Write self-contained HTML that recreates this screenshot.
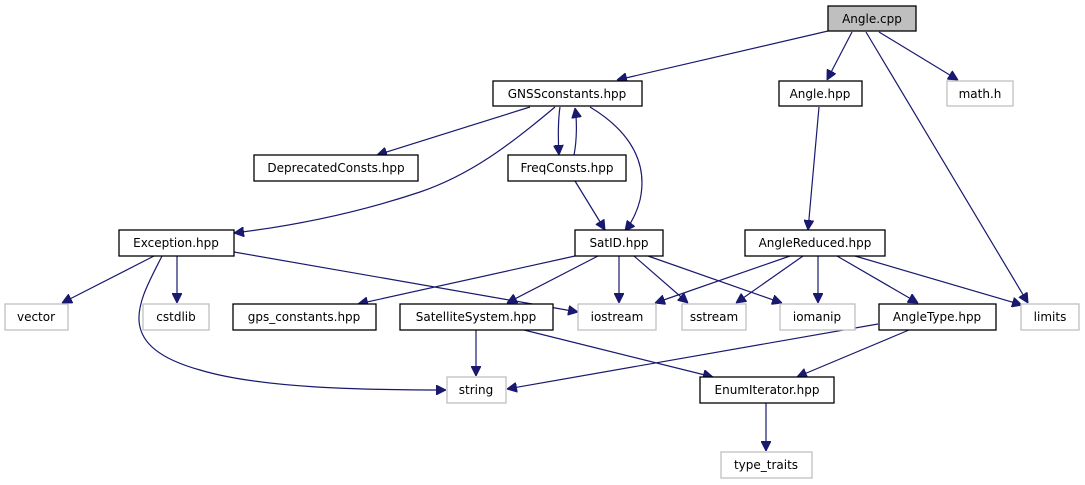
<!DOCTYPE html>
<html><head><meta charset="utf-8"><style>
html,body{margin:0;padding:0;background:#fff;}
svg{display:block;}
text{font-family:"DejaVu Sans","Liberation Sans",sans-serif;font-size:12px;fill:#000;text-anchor:middle;}
.n{fill:#fff;stroke:#000;stroke-width:1.3;}
.g{fill:#fff;stroke:#bfbfbf;stroke-width:1.3;}
.e{fill:none;stroke:#191970;stroke-width:1.2;}
</style></head><body>
<svg width="1085" height="485" viewBox="0 0 1085 485" xmlns="http://www.w3.org/2000/svg">
<defs><marker id="a" viewBox="0 0 10 10" refX="10" refY="5" markerWidth="10" markerHeight="10" markerUnits="userSpaceOnUse" orient="auto"><path d="M0,0 L10,5 L0,10 z" fill="#191970" stroke="#191970"/></marker></defs>
<!-- edges -->
<path class="e" marker-end="url(#a)" d="M828,31 L617,80"/>
<path class="e" marker-end="url(#a)" d="M852,32 L827,80"/>
<path class="e" marker-end="url(#a)" d="M866,32 L1028,303"/>
<path class="e" marker-end="url(#a)" d="M879,32 L958,80"/>
<path class="e" marker-end="url(#a)" d="M819,107 L808,230"/>
<path class="e" marker-end="url(#a)" d="M530,107 L377,155"/>
<path class="e" marker-end="url(#a)" d="M555,107 C510,145 470,175 420,192 C360,212 300,225 234,233"/>
<path class="e" marker-end="url(#a)" d="M560,107 C558,120 558,140 559,155"/>
<path class="e" marker-end="url(#a)" d="M574,155 C577,140 577,120 575,108"/>
<path class="e" marker-end="url(#a)" d="M590,107 C620,125 650,155 640,200 C637,212 632,222 625,231"/>
<path class="e" marker-end="url(#a)" d="M575,181 L605,230"/>
<path class="e" marker-end="url(#a)" d="M575,256 L358,304"/>
<path class="e" marker-end="url(#a)" d="M598,256 L507,303"/>
<path class="e" marker-end="url(#a)" d="M619,256 L619,303"/>
<path class="e" marker-end="url(#a)" d="M634,256 L688,303"/>
<path class="e" marker-end="url(#a)" d="M648,256 L782,303"/>
<path class="e" marker-end="url(#a)" d="M790,256 L655,303"/>
<path class="e" marker-end="url(#a)" d="M803,256 L736,303"/>
<path class="e" marker-end="url(#a)" d="M818,256 L818,303"/>
<path class="e" marker-end="url(#a)" d="M837,256 L918,303"/>
<path class="e" marker-end="url(#a)" d="M855,256 L1022,305"/>
<path class="e" marker-end="url(#a)" d="M234,252 L578,312"/>
<path class="e" marker-end="url(#a)" d="M154,256 L62,303"/>
<path class="e" marker-end="url(#a)" d="M177,256 L177,303"/>
<path class="e" marker-end="url(#a)" d="M162,256 C140,300 110,345 200,370 C260,388 360,390 446,390"/>
<path class="e" marker-end="url(#a)" d="M476,330 L476,376"/>
<path class="e" marker-end="url(#a)" d="M524,330 L713,377"/>
<path class="e" marker-end="url(#a)" d="M878,324 L507,389"/>
<path class="e" marker-end="url(#a)" d="M909,330 L797,377"/>
<path class="e" marker-end="url(#a)" d="M766,403 L766,451"/>
<!-- nodes -->
<rect x="828" y="6" width="88" height="25" fill="#bfbfbf" stroke="#000" stroke-width="1.3"/><text x="872" y="23">Angle.cpp</text>
<rect class="n" x="493" y="81" width="149" height="25"/><text x="567" y="98">GNSSconstants.hpp</text>
<rect class="n" x="779" y="81" width="83" height="25"/><text x="820" y="98">Angle.hpp</text>
<rect class="g" x="947" y="81" width="66" height="25"/><text x="980" y="98">math.h</text>
<rect class="n" x="254" y="155" width="164" height="26"/><text x="336" y="172">DeprecatedConsts.hpp</text>
<rect class="n" x="508" y="155" width="118" height="26"/><text x="567" y="172">FreqConsts.hpp</text>
<rect class="n" x="119" y="230" width="115" height="26"/><text x="176" y="247">Exception.hpp</text>
<rect class="n" x="575" y="230" width="88" height="26"/><text x="619" y="247">SatID.hpp</text>
<rect class="n" x="745" y="230" width="140" height="26"/><text x="815" y="247">AngleReduced.hpp</text>
<rect class="g" x="5" y="304" width="63" height="26"/><text x="36" y="321">vector</text>
<rect class="g" x="143" y="304" width="66" height="26"/><text x="176" y="321">cstdlib</text>
<rect class="n" x="233" y="304" width="143" height="26"/><text x="304" y="321">gps_constants.hpp</text>
<rect class="n" x="400" y="304" width="153" height="26"/><text x="476" y="321">SatelliteSystem.hpp</text>
<rect class="g" x="578" y="304" width="78" height="26"/><text x="617" y="321">iostream</text>
<rect class="g" x="682" y="304" width="64" height="26"/><text x="714" y="321">sstream</text>
<rect class="g" x="780" y="304" width="75" height="26"/><text x="817" y="321">iomanip</text>
<rect class="n" x="879" y="304" width="117" height="26"/><text x="937" y="321">AngleType.hpp</text>
<rect class="g" x="1021" y="304" width="58" height="26"/><text x="1050" y="321">limits</text>
<rect class="g" x="447" y="377" width="59" height="26"/><text x="476" y="394">string</text>
<rect class="n" x="700" y="377" width="134" height="26"/><text x="767" y="394">EnumIterator.hpp</text>
<rect class="g" x="721" y="452" width="91" height="26"/><text x="766" y="469">type_traits</text>
</svg>
</body></html>
